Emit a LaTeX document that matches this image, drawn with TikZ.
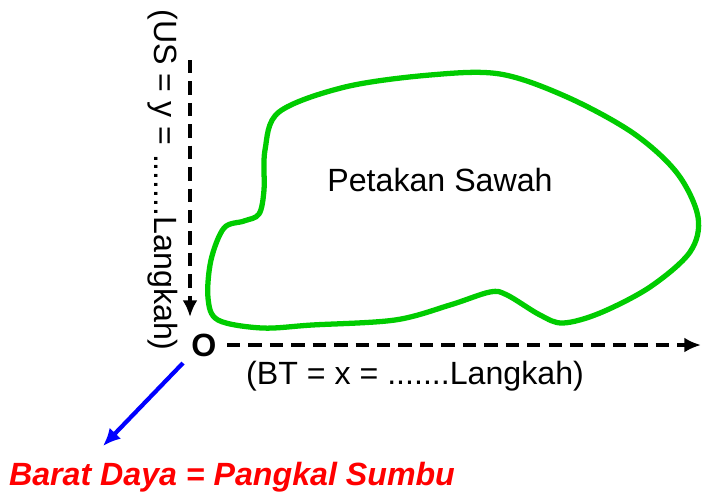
\documentclass[tikz,border=0pt]{standalone}
\usepackage{fontspec}
\setmainfont{Liberation Sans}
\usepackage{tikz}
\usetikzlibrary{arrows.meta,positioning}
\definecolor{sawahgreen}{RGB}{0,204,0}
\definecolor{pangkalred}{RGB}{255,0,0}
\definecolor{arahblue}{RGB}{0,0,255}

\begin{document}
\begin{tikzpicture}[
    x=0.02cm, y=-0.02cm,
    lbl/.style={inner sep=0pt, font=\fontsize{18.3}{22}\selectfont},
    axis/.style={line width=2pt, dash pattern=on 7.6pt off 4.6pt, -{Latex[length=9.5pt,width=8.5pt]}},
    pointer/.style={line width=2.4pt, arahblue, -{Latex[length=10pt,width=9pt]}}
]
\useasboundingbox (0,0) rectangle (702,495);

% Petakan (field outline)
\draw[sawahgreen, line width=3pt] plot[smooth cycle, tension=0.55] coordinates {
    (265,150) (279,112) (345,87) (430,75) (500,74) (567,97) (633,133)
    (677,173) (698,217) (690,252) (650,287) (600,313) (563,323) (540,315)
    (507,295) (490,292) (450,305) (395,320) (312,325) (262,328) (218,320)
    (208,298) (211,260) (224,228) (244,221) (259,214) (264,190)};
\node[lbl] (petak) at (440,180) {Petakan Sawah};

% Origin and axes
\node[lbl, font=\fontsize{18.3}{22}\selectfont\bfseries] (O) at (204,345) {O};
\coordinate (ytop) at (190,60);
\coordinate (yend) at (190,317);
\coordinate (xstart) at (227,345);
\coordinate (xend) at (701,345);
\draw[axis] (ytop) -- (yend);
\draw[axis] (xstart) -- (xend);

\node[lbl, rotate=-90] (ylab) at (162.5,180) {(US = y = .......Langkah)};
\node[lbl] (xlab) at (415,376) {(BT = x = .......Langkah)};

% Pangkal sumbu
\node[lbl, text=pangkalred, font=\fontsize{18.3}{22}\selectfont\bfseries\itshape] (bd) at (232,477) {Barat Daya = Pangkal Sumbu};
\coordinate (bdstart) at (183,363);
\coordinate (bdtip) at (103,446);
\draw[pointer] (bdstart) -- (bdtip);

\end{tikzpicture}
\end{document}
